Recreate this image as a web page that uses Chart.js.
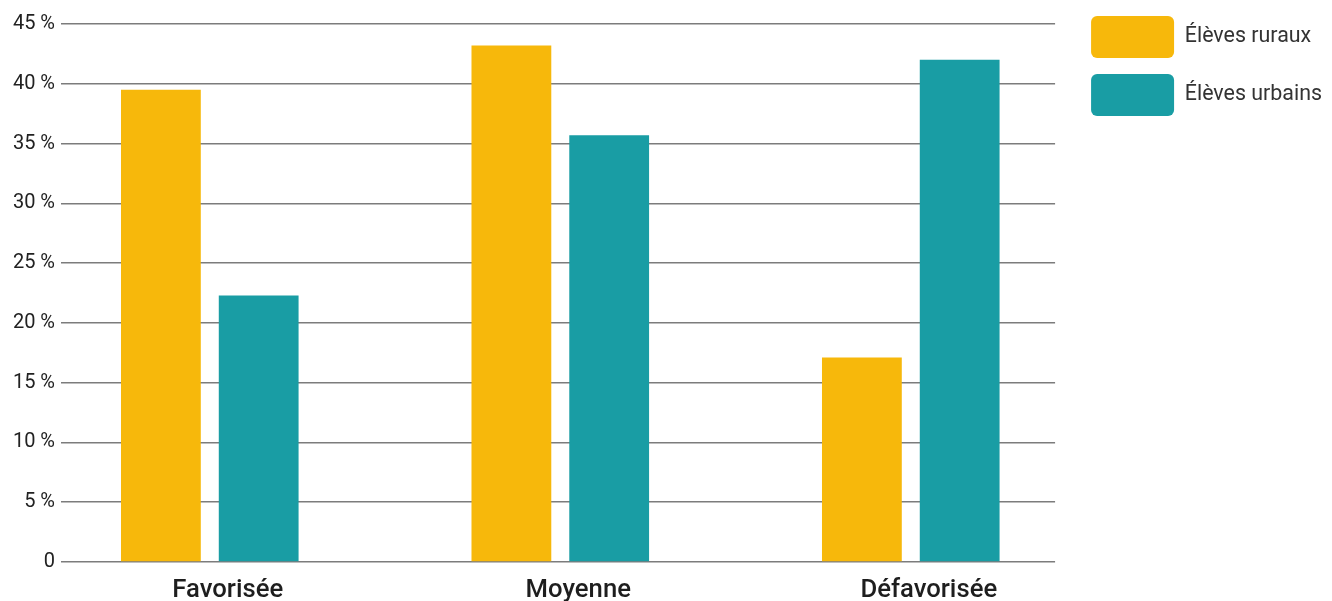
<!DOCTYPE html>
<html lang="fr">
<head>
<meta charset="utf-8">
<title>Élèves ruraux et urbains</title>
<script src="https://cdn.jsdelivr.net/npm/chart.js@4.4.1/dist/chart.umd.min.js"></script>
<style>
    html, body { margin: 0; padding: 0; background: #ffffff; }
    #contenedor { width: 1332px; height: 601px; position: relative; }
</style>
</head>
<body>
<div id="contenedor">
    <canvas id="graficoBarras"></canvas>
</div>
<script>
// Catégories et valeurs (en %)
const categorias = ['Favorisée', 'Moyenne', 'Défavorisée'];
const valoresRurales = [39.5, 43.2, 17.1];
const valoresUrbanos = [22.3, 35.7, 42.0];
const etiquetaRurales = 'Élèves ruraux';
const etiquetaUrbanos = 'Élèves urbains';
const marcasEjeY = [0, 5, 10, 15, 20, 25, 30, 35, 40, 45];

const colorAmarillo = '#F7B80B';
const colorTurquesa = '#199DA4';

const fuente = 'Roboto, "Noto Sans", sans-serif';

// eje x lineal: cada categoría en 0, 1, 2
const aPuntos = (valores) => valores.map((v, i) => ({ x: i, y: v }));

const ctx = document.getElementById('graficoBarras').getContext('2d');
const grafico = new Chart(ctx, {
    type: 'bar',
    data: {
        datasets: [
            {
                label: etiquetaRurales,
                data: aPuntos(valoresRurales),
                backgroundColor: colorAmarillo,
                borderWidth: 0,
                categoryPercentage: 0.558,
                barPercentage: 0.816
            },
            {
                label: etiquetaUrbanos,
                data: aPuntos(valoresUrbanos),
                backgroundColor: colorTurquesa,
                borderWidth: 0,
                categoryPercentage: 0.558,
                barPercentage: 0.816
            }
        ]
    },
    options: {
        responsive: true,
        maintainAspectRatio: false,
        animation: false,
        layout: { padding: 0 },
        scales: {
            x: {
                type: 'linear',
                offset: false,
                min: -0.4245,
                max: 2.4117,
                grid: { display: false, offset: false },
                border: { display: false },
                afterBuildTicks: (escala) => {
                    escala.ticks = categorias.map((c, i) => ({ value: i }));
                },
                afterFit: (escala) => { escala.height = 39; },
                ticks: {
                    padding: 5,
                    labelOffset: 18,
                    maxRotation: 0,
                    autoSkip: false,
                    color: '#1e1e1e',
                    font: { family: fuente, size: 25.7, weight: '500' },
                    callback: (valor) => categorias[valor]
                }
            },
            y: {
                min: 0,
                max: 45,
                afterBuildTicks: (escala) => {
                    escala.ticks = marcasEjeY.map(v => ({ value: v }));
                },
                afterFit: (escala) => { escala.width = 61; },
                grid: {
                    color: '#7c7c7c',
                    lineWidth: 1.6,
                    drawTicks: false
                },
                border: { display: false },
                ticks: {
                    padding: 6,
                    color: '#222222',
                    font: { family: fuente, size: 20 },
                    callback: (valor) => valor === 0 ? '0' : valor + ' %'
                }
            },
            // espacio vacío entre la zona del gráfico y la leyenda
            separador: {
                type: 'linear',
                position: 'right',
                display: false,
                afterFit: (escala) => { escala.width = 20; }
            }
        },
        plugins: {
            title: {
                display: true,
                text: '',
                fullSize: false,
                font: { size: 10, lineHeight: 1 },
                padding: { top: 0, bottom: 14 }
            },
            legend: {
                position: 'right',
                align: 'start',
                labels: {
                    boxWidth: 83,
                    boxHeight: 42,
                    padding: 16,
                    useBorderRadius: true,
                    borderRadius: 6,
                    color: '#333333',
                    font: { family: fuente, size: 21.4 }
                }
            },
            tooltip: { enabled: false }
        }
    }
});
</script>
</body>
</html>
